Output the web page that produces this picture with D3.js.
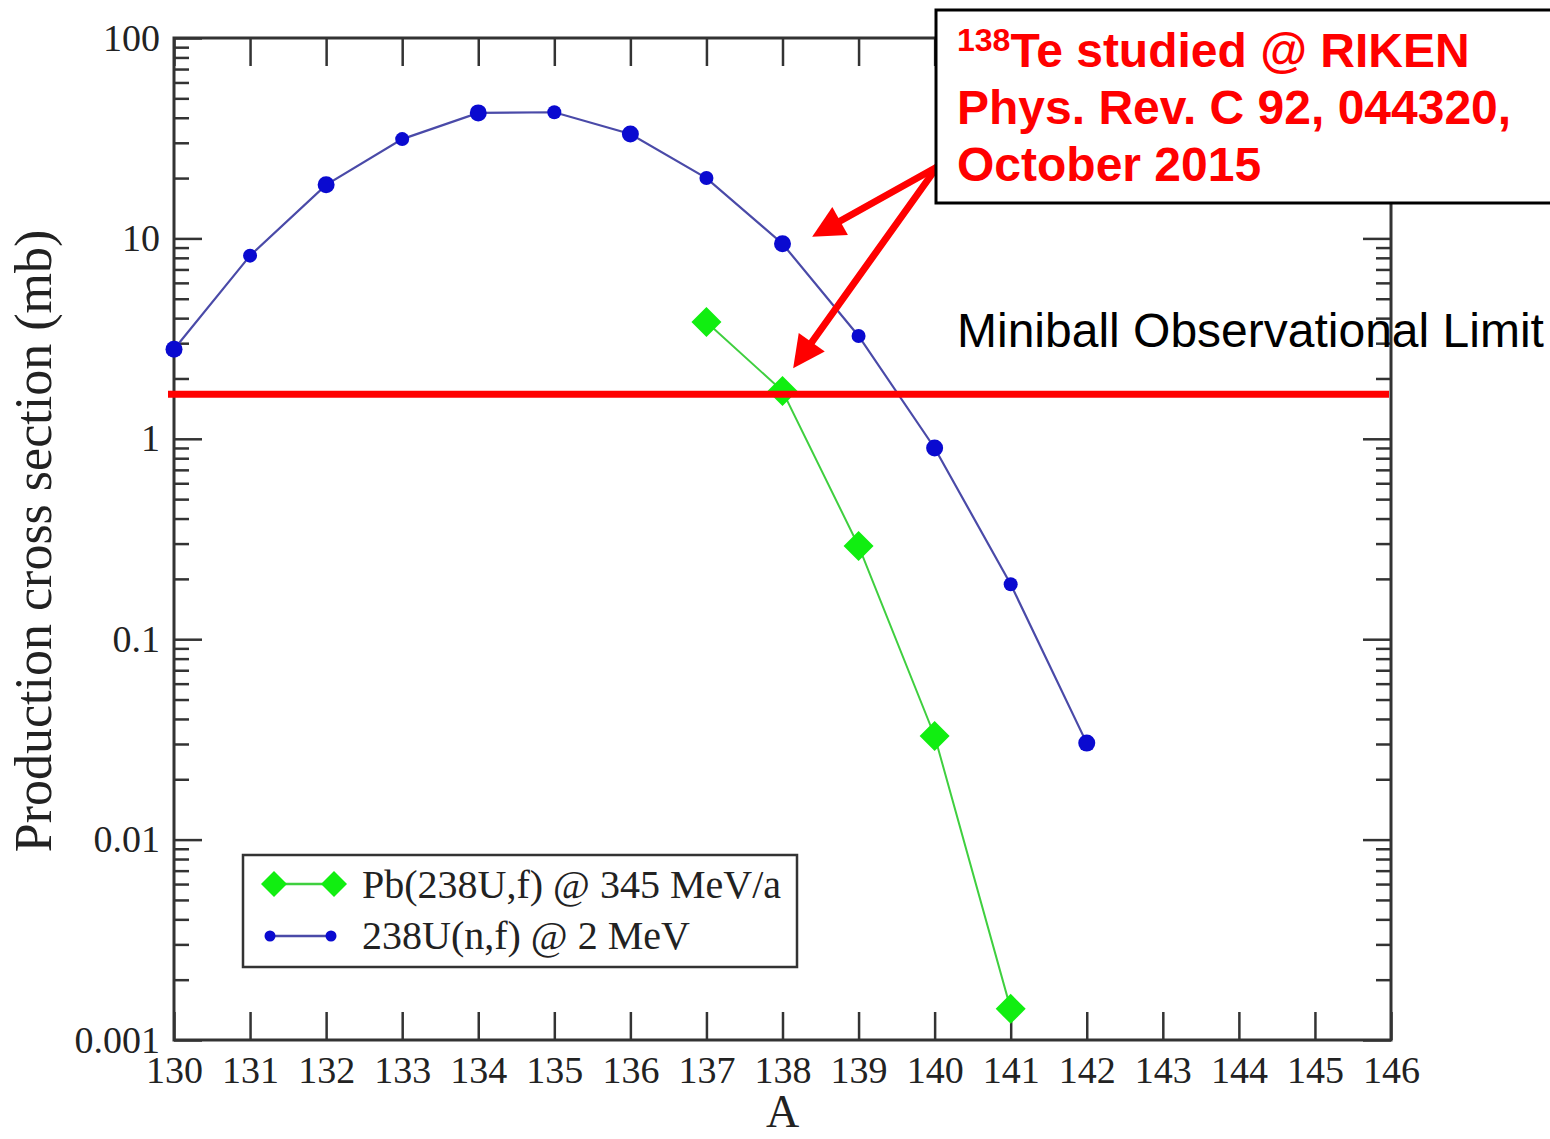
<!DOCTYPE html>
<html>
<head>
<meta charset="utf-8">
<script src="https://cdn.jsdelivr.net/npm/d3@7"></script>
<style>
  html, body { margin: 0; padding: 0; background: #fff; }
  svg { display: block; }
</style>
</head>
<body>
<svg id="chart" width="1550" height="1139"></svg>
<script>
// Fragment mass number A
const massNumbers = [130, 131, 132, 133, 134, 135, 136, 137, 138, 139, 140, 141, 142];
// 238U(n,f) @ 2 MeV production cross sections (mb)
const neutronFission = [2.8, 8.2, 18.5, 31.3, 42.3, 42.6, 33.2, 20.0, 9.4, 3.26, 0.90, 0.188, 0.0303];
// Pb(238U,f) @ 345 MeV/a production cross sections (mb)
const relativisticMass = [137, 138, 139, 140, 141];
const relativisticFission = [3.83, 1.73, 0.292, 0.0329, 0.00143];
// Miniball observational limit (mb)
const miniballLimit = 1.67;

const xTicks = [130, 131, 132, 133, 134, 135, 136, 137, 138, 139, 140, 141, 142, 143, 144, 145, 146];
const yDecades = [0.001, 0.01, 0.1, 1, 10, 100];
const yTickLabels = ["0.001", "0.01", "0.1", "1", "10", "100"];

const legendLabels = ["Pb(238U,f) @ 345 MeV/a", "238U(n,f) @ 2 MeV"];
const noteLines = ["Te studied @ RIKEN", "Phys. Rev. C 92, 044320,", "October 2015"];
const noteIsotope = "138";
const limitLabel = "Miniball Observational Limit";
// Points the arrows indicate: (A, cross section)
const arrowTargets = [[138.39, 10.2], [138.14, 2.25]];

const svg = d3.select("#chart");
const plotLeft = 174, plotRight = 1391, plotTop = 38, plotBottom = 1040;
const x = d3.scaleLinear().domain([130, 146]).range([plotLeft, plotRight]);
const y = d3.scaleLog().domain([0.001, 100]).range([plotBottom, plotTop]);

const serif = "'Liberation Serif', 'Times New Roman', serif";
const sans = "'Liberation Sans', Arial, sans-serif";
const axisColor = "#333";

const yMinor = y.ticks().filter(v => !yDecades.some(d => Math.abs(d - v) / d < 1e-9));

function styleAxis(g) {
  g.select(".domain").remove();
  g.selectAll(".tick line").attr("stroke", axisColor).attr("stroke-width", 2.5);
  g.selectAll(".tick text").attr("fill", "#222").style("font-family", serif).style("font-size", "38px");
}

// bottom axis with labels
svg.append("g").attr("transform", `translate(0,${plotBottom})`)
  .call(d3.axisBottom(x).tickValues(xTicks).tickFormat(d3.format("d")).tickSizeInner(-28).tickSizeOuter(0).tickPadding(16))
  .call(styleAxis);
// top axis
svg.append("g").attr("transform", `translate(0,${plotTop})`)
  .call(d3.axisTop(x).tickValues(xTicks).tickFormat("").tickSizeInner(-28).tickSizeOuter(0))
  .call(styleAxis);
// left axis
svg.append("g").attr("transform", `translate(${plotLeft},0)`)
  .call(d3.axisLeft(y).tickValues(yDecades).tickFormat((d, i) => yTickLabels[i]).tickSizeInner(-28).tickSizeOuter(0).tickPadding(14))
  .call(styleAxis);
svg.append("g").attr("transform", `translate(${plotLeft},0)`)
  .call(d3.axisLeft(y).tickValues(yMinor).tickFormat("").tickSizeInner(-15).tickSizeOuter(0))
  .call(styleAxis);
// right axis
svg.append("g").attr("transform", `translate(${plotRight},0)`)
  .call(d3.axisRight(y).tickValues(yDecades).tickFormat("").tickSizeInner(-28).tickSizeOuter(0))
  .call(styleAxis);
svg.append("g").attr("transform", `translate(${plotRight},0)`)
  .call(d3.axisRight(y).tickValues(yMinor).tickFormat("").tickSizeInner(-15).tickSizeOuter(0))
  .call(styleAxis);

// plot frame
svg.append("rect")
  .attr("x", plotLeft).attr("y", plotTop).attr("width", plotRight - plotLeft).attr("height", plotBottom - plotTop)
  .attr("fill", "none").attr("stroke", axisColor).attr("stroke-width", 3);

// axis titles
svg.append("text")
  .attr("transform", `translate(51,${(plotTop + plotBottom) / 2 + 2}) rotate(-90)`)
  .attr("text-anchor", "middle")
  .style("font-family", serif).style("font-size", "52px").attr("fill", "#222")
  .text("Production cross section (mb)");
svg.append("text")
  .attr("x", x(138)).attr("y", 1127)
  .attr("text-anchor", "middle")
  .style("font-family", serif).style("font-size", "46px").attr("fill", "#222")
  .text("A");

// series
const blueLine = "#4a4aa8", blueMark = "#0a0ad0";
const greenLine = "#3fcf3f", greenMark = "#11ee11";
const line = d3.line().x(d => x(d[0])).y(d => y(d[1]));

const nfData = massNumbers.map((a, i) => [a, neutronFission[i]]);
const relData = relativisticMass.map((a, i) => [a, relativisticFission[i]]);

svg.append("path").datum(relData).attr("d", line)
  .attr("fill", "none").attr("stroke", greenLine).attr("stroke-width", 2);
svg.append("path").datum(nfData).attr("d", line)
  .attr("fill", "none").attr("stroke", blueLine).attr("stroke-width", 2.2);

const diamond = s => `M0,${-s}L${s},0L0,${s}L${-s},0Z`;
svg.append("g").selectAll("path").data(relData).join("path")
  .attr("transform", d => `translate(${x(d[0])},${y(d[1])})`)
  .attr("d", diamond(15)).attr("fill", greenMark);
svg.append("g").selectAll("circle").data(nfData).join("circle")
  .attr("cx", d => x(d[0])).attr("cy", d => y(d[1]))
  .attr("r", (d, i) => i % 2 === 0 ? 8.5 : 7).attr("fill", blueMark);

// observational limit
svg.append("line")
  .attr("x1", plotLeft - 6).attr("x2", plotRight - 2)
  .attr("y1", y(miniballLimit)).attr("y2", y(miniballLimit))
  .attr("stroke", "#ff0000").attr("stroke-width", 7);
svg.append("text")
  .attr("x", 957).attr("y", 347)
  .style("font-family", sans).style("font-size", "48px").attr("fill", "#000")
  .text(limitLabel);

// legend
const lg = svg.append("g");
lg.append("rect").attr("x", 243).attr("y", 855).attr("width", 554).attr("height", 112)
  .attr("fill", "#fff").attr("stroke", axisColor).attr("stroke-width", 2.5);
lg.append("line").attr("x1", 274).attr("x2", 334).attr("y1", 884).attr("y2", 884)
  .attr("stroke", greenLine).attr("stroke-width", 2.5);
[274, 334].forEach(cx => lg.append("path").attr("transform", `translate(${cx},884)`)
  .attr("d", diamond(13)).attr("fill", greenMark));
lg.append("line").attr("x1", 270).attr("x2", 331).attr("y1", 936).attr("y2", 936)
  .attr("stroke", blueLine).attr("stroke-width", 2.5);
[270, 331].forEach(cx => lg.append("circle").attr("cx", cx).attr("cy", 936).attr("r", 5.5).attr("fill", blueMark));
legendLabels.forEach((t, i) => lg.append("text")
  .attr("x", 362).attr("y", 898 + i * 51)
  .style("font-family", serif).style("font-size", "40px").attr("fill", "#222")
  .text(t));

// arrows from the note box
const origin = [937, 167];
const ag = svg.append("g");
arrowTargets.forEach(t => {
  const tip = [x(t[0]), y(t[1])];
  const dx = tip[0] - origin[0], dy = tip[1] - origin[1];
  const len = Math.hypot(dx, dy), ux = dx / len, uy = dy / len;
  const headLen = 32, headHalf = 16;
  const base = [tip[0] - ux * headLen, tip[1] - uy * headLen];
  ag.append("line")
    .attr("x1", origin[0]).attr("y1", origin[1])
    .attr("x2", base[0] + ux * 4).attr("y2", base[1] + uy * 4)
    .attr("stroke", "#ff0000").attr("stroke-width", 7).attr("stroke-linecap", "round");
  ag.append("path")
    .attr("d", `M${tip[0]},${tip[1]}L${base[0] - uy * headHalf},${base[1] + ux * headHalf}L${base[0] + uy * headHalf},${base[1] - ux * headHalf}Z`)
    .attr("fill", "#ff0000");
});

// note box
svg.append("rect").attr("x", 936).attr("y", 10).attr("width", 640).attr("height", 193)
  .attr("fill", "#fff").attr("stroke", "#000").attr("stroke-width", 3);
const note = svg.append("g").style("font-family", sans).style("font-weight", "bold").attr("fill", "#ff0000");
const l1 = note.append("text").attr("x", 957).attr("y", 67).style("font-size", "48px");
l1.append("tspan").style("font-size", "32px").attr("dy", "-16").text(noteIsotope);
l1.append("tspan").attr("dy", "16").text(noteLines[0]);
noteLines.slice(1).forEach((t, i) => note.append("text")
  .attr("x", 957).attr("y", 124 + i * 57).style("font-size", "48px").text(t));
</script>
</body>
</html>
